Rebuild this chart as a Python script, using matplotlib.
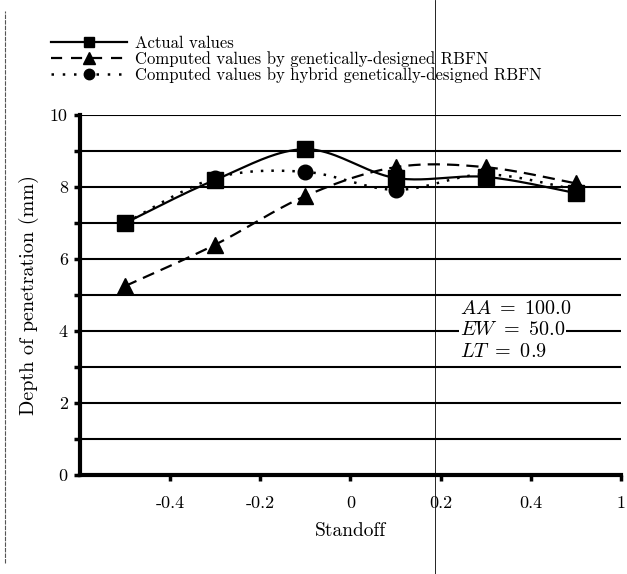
import numpy as np
import matplotlib
matplotlib.use("Agg")
import matplotlib.pyplot as plt
from matplotlib.lines import Line2D

plt.rcParams['font.family'] = ['cmr10', 'DejaVu Serif']
plt.rcParams['mathtext.fontset'] = 'cm'
plt.rcParams['axes.unicode_minus'] = False
plt.rcParams['axes.formatter.use_mathtext'] = False

standoff = [-0.5, -0.3, -0.1, 0.1, 0.3, 0.5]
actual = [7.0, 8.2, 9.05, 8.25, 8.28, 7.83]
genetic = [5.25, 6.4, 7.75, 8.55, 8.55, 8.1]
hybrid = [7.0, 8.25, 8.42, 7.92, 8.35, 7.92]

x_ticks = [-0.4, -0.2, 0, 0.2, 0.4, 0.6]
x_labels = ['-0.4', '-0.2', '0', '0.2', '0.4', '1']
y_ticks = [0, 2, 4, 6, 8, 10]

labels = ['Actual values',
          'Computed values by genetically-designed RBFN',
          'Computed values by hybrid genetically-designed RBFN']


def smooth(xs, ys, n=40):
    xs = np.asarray(xs, float)
    ys = np.asarray(ys, float)
    P = np.column_stack([xs, ys])
    P = np.vstack([P[0], P, P[-1]])
    out = []
    for i in range(1, len(P) - 2):
        p0, p1, p2, p3 = P[i - 1], P[i], P[i + 1], P[i + 2]
        c1 = p1 + (p2 - p0) / 6.0
        c2 = p2 - (p3 - p1) / 6.0
        t = np.linspace(0, 1, n)[:, None]
        seg = ((1 - t) ** 3) * p1 + 3 * ((1 - t) ** 2) * t * c1 + 3 * (1 - t) * t ** 2 * c2 + t ** 3 * p2
        out.append(seg if i == 1 else seg[1:])
    seg = np.vstack(out)
    return seg[:, 0], seg[:, 1]


fig = plt.figure(figsize=(6.27, 5.74), dpi=100)
ax = fig.add_axes([0.128, 0.1725, 0.862, 0.6272])

ax.set_xlim(-0.6, 0.6)
ax.set_ylim(0, 10)

for v in range(1, 11):
    ax.axhline(v, color='black', lw=1.5, zorder=1)

sx, sy = smooth(standoff, actual)
ax.plot(sx, sy, color='black', lw=1.6, zorder=3)
ax.plot(standoff, actual, ls='none', marker='s', ms=11, color='black', zorder=4)

gx, gy = smooth(standoff, genetic)
ax.plot(gx, gy, color='black', lw=1.6, dashes=(5.5, 3.2), zorder=3)
ax.plot(standoff, genetic, ls='none', marker='^', ms=11, color='black', zorder=4)

hx, hy = smooth(standoff, hybrid)
ax.plot(hx, hy, color='black', lw=1.8, dashes=(1, 3.2), zorder=3)
ax.plot(standoff, hybrid, ls='none', marker='o', ms=10.5, color='black', zorder=4)

ax.spines['top'].set_visible(False)
ax.spines['right'].set_visible(False)
ax.spines['left'].set_linewidth(3)
ax.spines['bottom'].set_linewidth(3)

ax.set_xticks(x_ticks)
ax.set_xticklabels(x_labels)
ax.set_yticks(y_ticks)
ax.set_yticks(range(0, 11), minor=True)
ax.tick_params(axis='both', which='both', direction='out', width=2.5, length=4, labelsize=13)
ax.tick_params(axis='x', pad=11)
ax.tick_params(axis='y', pad=5)

ax.set_xlabel('Standoff', fontsize=14, labelpad=8)
ax.set_ylabel('Depth of penetration (mm)', fontsize=14.5, labelpad=8)

txt_kw = dict(fontsize=14.5, ha='left', va='center', zorder=5,
              bbox=dict(facecolor='white', edgecolor='none', pad=0.5))
ax.text(0.243, 4.61, r'$AA\ =\ 100.0$', **txt_kw)
ax.text(0.243, 4.03, r'$EW\ =\ 50.0$', **txt_kw)
ax.text(0.243, 3.42, r'$LT\ =\ 0.9$', **txt_kw)

handles = [
    Line2D([], [], color='black', lw=1.6, marker='s', ms=7.5),
    Line2D([], [], color='black', lw=1.6, dashes=(5, 4), marker='^', ms=8),
    Line2D([], [], color='black', lw=1.8, dashes=(1, 3.5), marker='o', ms=7.5),
]
fig.legend(handles, labels, loc='upper left', bbox_to_anchor=(0.07, 0.95),
           frameon=False, fontsize=12, handlelength=4.6, handletextpad=0.45,
           labelspacing=0.03, borderaxespad=0)

fig.add_artist(Line2D([435 / 627, 435 / 627], [0, 1], color='black', lw=0.6))
fig.add_artist(Line2D([5 / 627, 5 / 627], [0.02, 0.98], color='#555555', lw=0.8, dashes=(4, 1)))

fig.savefig('out.png', dpi=100)
